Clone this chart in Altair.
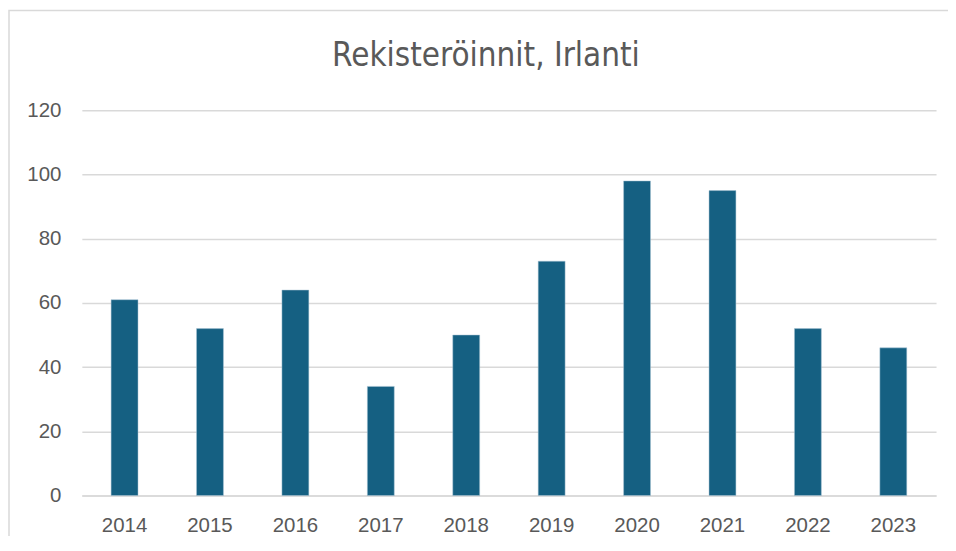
import altair as alt
import pandas as pd

years = ["2014", "2015", "2016", "2017", "2018", "2019", "2020", "2021", "2022", "2023"]
values = [61, 52, 64, 34, 50, 73, 98, 95, 52, 46]
y_ticks = [0, 20, 40, 60, 80, 100, 120]
title_text = "Rekisteröinnit, Irlanti"

df = pd.DataFrame({"vuosi": years, "arvo": values})

narrow = "DejaVu Sans Condensed, Liberation Sans Narrow, Liberation Sans, sans-serif"
sans = "Liberation Sans, Arial, sans-serif"

bars = alt.Chart(df).mark_bar(color="#156082", stroke="#a9c4d4", strokeWidth=0.5).encode(
    x=alt.X("vuosi:N", sort=years,
            scale=alt.Scale(paddingInner=0.685, paddingOuter=0.3425),
            axis=alt.Axis(title=None, labelAngle=0, ticks=False, domain=True,
                          domainColor="#d9d9d9", domainWidth=1.5,
                          labelFont=sans, labelFontSize=20.5, labelColor="#595959",
                          labelPadding=20)),
    y=alt.Y("arvo:Q", scale=alt.Scale(domain=[0, 120], nice=False),
            axis=alt.Axis(title=None, values=y_ticks, ticks=False, domain=False,
                          gridColor="#d9d9d9", gridWidth=1.5,
                          labelFont=sans, labelFontSize=20.5, labelColor="#595959",
                          labelPadding=21)),
)

border = alt.Chart(pd.DataFrame({"a": [0]})).mark_rect(
    fill=None, stroke="#d9d9d9", strokeWidth=1.5
).encode(
    x=alt.value(-73), x2=alt.value(900), y=alt.value(-100), y2=alt.value(470)
)

title = alt.Chart(pd.DataFrame({"t": [title_text]})).mark_text(
    font=narrow, fontSize=33, color="#595959", align="center", baseline="alphabetic"
).encode(
    text="t:N", x=alt.value(405), y=alt.value(-44)
)

chart = alt.layer(border, bars, title).properties(
    width=856, height=386,
    autosize=alt.AutoSizeParams(type="none"),
    padding={"left": 74, "top": 102, "right": 12, "bottom": 40},
).configure_view(stroke=None)

chart.save("out.html", embed_options={"renderer": "svg", "actions": False})
